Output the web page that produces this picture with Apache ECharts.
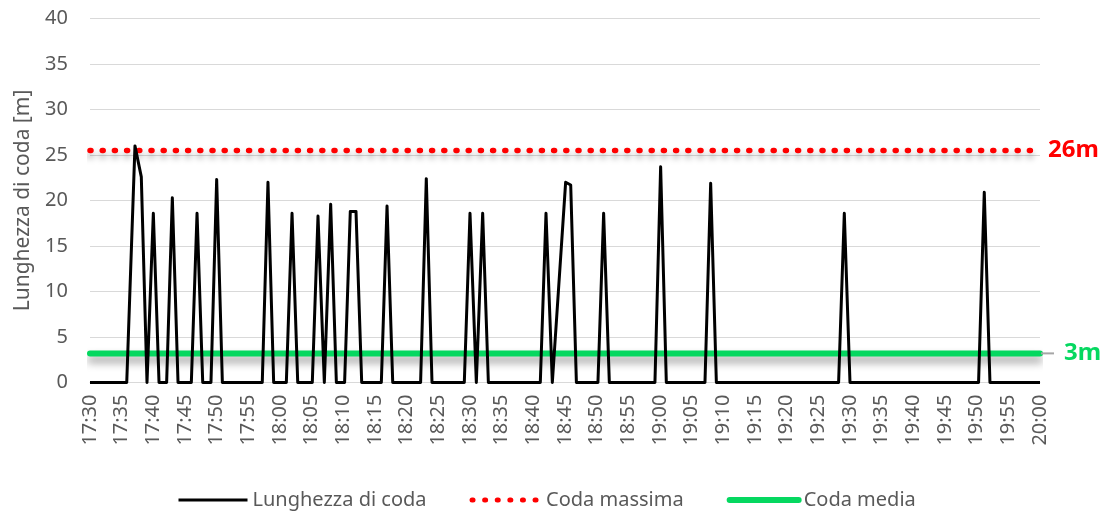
<!DOCTYPE html>
<html>
<head>
<meta charset="utf-8">
<script src="https://cdn.jsdelivr.net/npm/echarts@6/dist/echarts.min.js"></script>
<style>
    html, body { margin: 0; padding: 0; background: #fff; }
    #chart { width: 1112px; height: 513px; }
</style>
</head>
<body>
<div id="chart"></div>
<script>
// minuti dopo le 17:30
const minuti = [
    0, 5.8, 7.1, 8.1, 9.0, 10.0, 10.9, 12.1, 13.0, 13.9,
    16.0, 16.9, 17.8, 19.1, 20.0, 20.9, 27.2, 28.1, 29.0, 31.0,
    31.9, 32.8, 35.1, 36.0, 37.0, 38.0, 38.9, 40.2, 41.1, 42.0,
    42.9, 46.0, 46.9, 47.8, 52.2, 53.1, 54.0, 59.1, 60.0, 61.0,
    62.0, 62.9, 71.1, 72.0, 73.0, 75.1, 75.9, 76.8, 80.2, 81.1,
    82.0, 89.2, 90.1, 91.0, 97.1, 98.0, 98.9, 118.2, 119.1, 120.0,
    140.3, 141.2, 142.1, 150
];
// lunghezza di coda [m]
const coda = [
    0, 0, 26, 22.6, 0, 18.6, 0, 0, 20.3, 0,
    0, 18.6, 0, 0, 22.3, 0, 0, 22.0, 0, 0,
    18.6, 0, 0, 18.3, 0, 19.6, 0, 0, 18.8, 18.8,
    0, 0, 19.4, 0, 0, 22.4, 0, 0, 18.6, 0,
    18.6, 0, 0, 18.6, 0, 22.0, 21.7, 0, 0, 18.6,
    0, 0, 23.7, 0, 0, 21.9, 0, 0, 18.6, 0,
    0, 20.9, 0, 0
];
const codaMassima = 25.5;
const codaMedia = 3.2;
const inizio = 17 * 60 + 30;

const TXT = '#595959';
const FONT = 'Noto Sans';
const ROSSO = '#ff0000';
const VERDE = '#05d860';

function orario(v) {
    const t = inizio + v;
    const m = t % 60;
    return Math.floor(t / 60) + ':' + (m < 10 ? '0' : '') + m;
}

var chart = echarts.init(document.getElementById('chart'));

let option = {
    animation: false,
    textStyle: { fontFamily: FONT },
    grid: { left: 90, right: 72, top: 18.5, bottom: 130.5 },
    legend: {
        left: 172,
        top: 485,
        itemWidth: 69,
        itemHeight: 14,
        itemGap: 43,
        itemStyle: { opacity: 0 },
        textStyle: { fontSize: 20, color: TXT, fontFamily: FONT },
        data: [
            { name: 'Lunghezza di coda', lineStyle: { color: '#000', width: 3 } },
            { name: 'Coda massima', lineStyle: { color: ROSSO, width: 5, type: [1, 11.6], cap: 'round' } },
            { name: 'Coda media', lineStyle: { color: VERDE, width: 6, cap: 'round' } },
        ],
    },
    xAxis: {
        type: 'value',
        min: 0,
        max: 150,
        interval: 5,
        axisLine: { show: true, lineStyle: { color: '#d9d9d9', width: 1 } },
        axisTick: { show: false },
        splitLine: { show: false },
        axisLabel: {
            rotate: 90,
            margin: 12,
            fontSize: 20,
            color: TXT,
            formatter: orario,
        },
    },
    yAxis: {
        type: 'value',
        min: 0,
        max: 40,
        interval: 5,
        name: 'Lunghezza di coda [m]',
        nameLocation: 'middle',
        nameGap: 56,
        nameTextStyle: { fontSize: 21, color: TXT },
        axisLine: { show: false },
        axisTick: { show: false },
        splitLine: { lineStyle: { color: '#d9d9d9', width: 1 } },
        axisLabel: { fontSize: 20, color: TXT, margin: 22 },
    },
    series: [
        {
            name: 'Lunghezza di coda',
            type: 'line',
            symbol: 'none',
            smooth: false,
            data: minuti.map((m, i) => [m, coda[i]]),
            lineStyle: { color: '#000', width: 3, join: 'round' },
            itemStyle: { color: '#000' },
            z: 3,
        },
        {
            name: 'Coda massima',
            type: 'line',
            symbol: 'none',
            data: [[0, codaMassima], [150, codaMassima]],
            lineStyle: {
                color: ROSSO,
                width: 5.5,
                type: [1, 11.2],
                cap: 'round',
                shadowColor: 'rgba(0,0,0,0.35)',
                shadowBlur: 6,
                shadowOffsetY: 5,
            },
            itemStyle: { color: ROSSO },
            endLabel: {
                show: true,
                distance: 8,
                formatter: '26m',
                color: ROSSO,
                fontSize: 24,
                fontWeight: 'bold',
            },
            z: 2,
        },
        {
            name: 'Coda media',
            type: 'line',
            symbol: 'none',
            data: [[0, codaMedia], [150, codaMedia]],
            lineStyle: {
                color: VERDE,
                width: 6,
                cap: 'round',
                shadowColor: 'rgba(0,0,0,0.4)',
                shadowBlur: 8,
                shadowOffsetY: 6,
            },
            itemStyle: { color: VERDE },
            endLabel: {
                show: true,
                distance: 1,
                formatter: '{t|}{v|3m}',
                rich: {
                    t: { width: 13, height: 2, backgroundColor: '#a6a6a6', verticalAlign: 'middle' },
                    v: { color: VERDE, fontSize: 24, fontWeight: 'bold', padding: [0, 0, 0, 10], verticalAlign: 'middle' },
                },
            },
            z: 2,
        },
    ],
};

chart.setOption(option);
</script>
</body>
</html>
